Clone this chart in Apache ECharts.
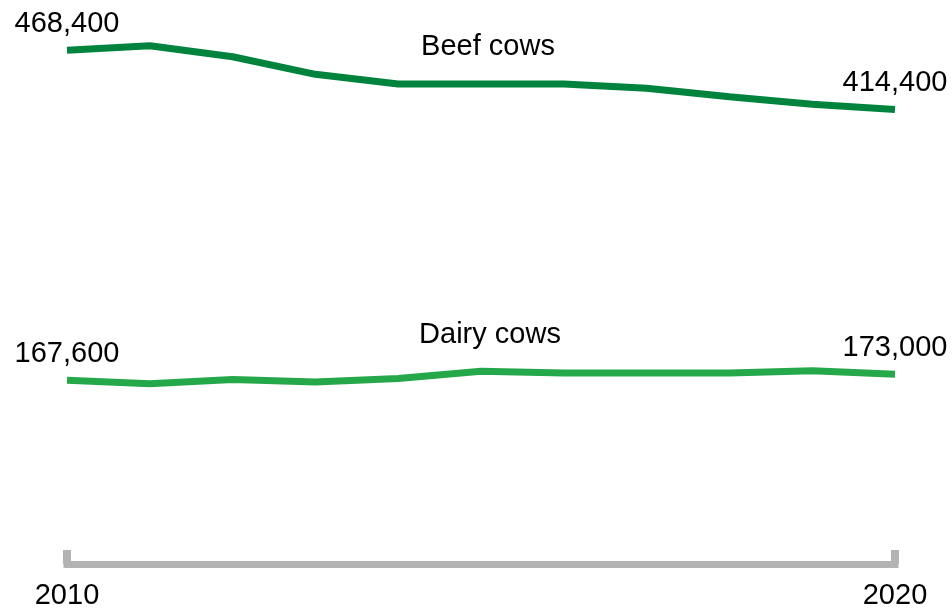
<!DOCTYPE html>
<html>
<head>
<meta charset="utf-8">
<script src="https://cdn.jsdelivr.net/npm/echarts@6/dist/echarts.min.js"></script>
<style>
  html, body { margin: 0; padding: 0; background: #fff; }
  #chart { width: 952px; height: 613px; }
</style>
</head>
<body>
<div id="chart"></div>
<script>
// Cattle numbers, 2010-2020
const years = ['2010', '2011', '2012', '2013', '2014', '2015', '2016', '2017', '2018', '2019', '2020'];
const beefCows = [468400, 472500, 462400, 446400, 437600, 437600, 437600, 433600, 426000, 419100, 414400];
const dairyCows = [167600, 164300, 168100, 165900, 169000, 175800, 174200, 174200, 174200, 176200, 173000];
const seriesNames = ['Beef cows', 'Dairy cows'];

const FONT = '"Liberation Sans", Arial, sans-serif';
const last = years.length - 1;

// Only the first and last point of each line carries a value label
function endpointData(values) {
  return values.map((v, i) => ({
    value: v,
    label: { show: i === 0 || i === last }
  }));
}

function fmt(p) {
  return Number(p.value).toLocaleString('en-US');
}

function lineSeries(name, values, color) {
  return {
    name: name,
    type: 'line',
    data: endpointData(values),
    symbol: 'circle',
    symbolSize: 0,
    showSymbol: true,
    itemStyle: { color: 'rgba(0,0,0,0)' },
    lineStyle: { color: color, width: 7 },
    label: {
      position: 'top',
      distance: 12,
      color: '#000',
      fontFamily: FONT,
      fontSize: 29,
      formatter: fmt
    }
  };
}

const chart = echarts.init(document.getElementById('chart'), null, { renderer: 'canvas' });

const option = {
  animation: false,
  backgroundColor: '#ffffff',
  grid: { left: 67, right: 57, top: 15.5, bottom: 49, containLabel: false },
  xAxis: {
    type: 'category',
    data: years,
    boundaryGap: false,
    axisLine: { show: true, lineStyle: { color: '#b3b3b3', width: 7, cap: 'square' } },
    axisTick: {
      show: true,
      inside: true,
      length: 14,
      interval: (idx) => idx === 0 || idx === last,
      lineStyle: { color: '#b3b3b3', width: 8 }
    },
    axisLabel: {
      show: true,
      interval: (idx) => idx === 0 || idx === last,
      color: '#000',
      fontFamily: FONT,
      fontSize: 29,
      margin: 17
    },
    splitLine: { show: false }
  },
  yAxis: {
    type: 'value',
    min: 0,
    max: 500000,
    show: false
  },
  series: [
    lineSeries(seriesNames[0], beefCows, '#00843d'),
    lineSeries(seriesNames[1], dairyCows, '#25a84a')
  ],
  graphic: [
    {
      type: 'text',
      x: 488, y: 47,
      style: { text: seriesNames[0], fill: '#000', font: '29px ' + FONT, align: 'center', verticalAlign: 'middle' }
    },
    {
      type: 'text',
      x: 490, y: 335,
      style: { text: seriesNames[1], fill: '#000', font: '29px ' + FONT, align: 'center', verticalAlign: 'middle' }
    }
  ]
};

chart.setOption(option);
</script>
</body>
</html>
